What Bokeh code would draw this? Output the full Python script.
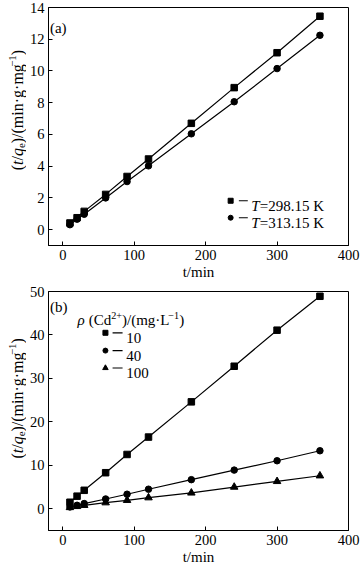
from math import pi
from bokeh.plotting import figure
from bokeh.models import Label, Range1d, FixedTicker
from bokeh.layouts import column, row
from bokeh.embed import file_html
from bokeh.resources import INLINE

# ---------------- data ----------------
t_min = [10, 20, 30, 60, 90, 120, 180, 240, 300, 360]
# panel (a): temperature
a_T298 = [0.42, 0.75, 1.15, 2.22, 3.35, 4.45, 6.70, 8.95, 11.15, 13.45]
a_T313 = [0.31, 0.66, 0.97, 2.00, 3.03, 4.02, 6.04, 8.06, 10.15, 12.25]
a_labels = ["=298.15 K", "=313.15 K"]
# panel (b): initial Cd2+ concentration
b_c10 = [1.5, 2.9, 4.25, 8.3, 12.5, 16.5, 24.6, 32.8, 41.1, 48.9]
b_c40 = [0.42, 0.8, 1.2, 2.25, 3.35, 4.5, 6.7, 8.9, 11.05, 13.35]
b_c100 = [0.3, 0.55, 0.8, 1.4, 1.95, 2.55, 3.65, 5.0, 6.3, 7.6]
b_labels = ["10", "40", "100"]

x_ticks = [0, 100, 200, 300, 400]
a_yticks = [0, 2, 4, 6, 8, 10, 12, 14]
b_yticks = [0, 10, 20, 30, 40, 50]
x_title = "t/min"

FONT = "Liberation Serif"

# approximate advance widths (Times metrics, per 1000 em)
W_REG = {"(": 333, ")": 333, "/": 278, "·": 250, " ": 250, "m": 778, "i": 278,
         "n": 500, "g": 500, "C": 667, "d": 500, "L": 611, "K": 722, "=": 564,
         ".": 250, "+": 564, "−": 564, "e": 444, "t": 278, "q": 500, "T": 611}
W_IT = {"t": 278, "q": 500, "T": 556, "ρ": 500}


def tw(s, size, italic=False):
    tot = 0
    for c in s:
        if italic and c in W_IT:
            tot += W_IT[c]
        else:
            tot += W_REG.get(c, 500)
    return tot * size / 1000.0


def piece_size(kind, size):
    return size * 0.68 if kind in ("sub", "sup") else size


def rich_h(p, x, y, pieces, size, xo=0.0, yo=0.0):
    off = 0.0
    for text, style, kind in pieces:
        if text == " ":
            off += tw(" ", size)
            continue
        fs = piece_size(kind, size)
        dy = -0.22 * size if kind == "sub" else (0.36 * size if kind == "sup" else 0.0)
        p.add_layout(Label(x=x, y=y, x_offset=xo + off, y_offset=yo + dy, text=text,
                           text_font=FONT, text_font_size=f"{fs:.1f}px",
                           text_font_style=style, text_align="left",
                           text_baseline="alphabetic", text_color="black"))
        off += tw(text, fs, style == "italic")
    return off


def rich_v(p, x, y, pieces, size, xo=0.0):
    total = sum(tw(t, piece_size(k, size), s == "italic") for t, s, k in pieces)
    off = -total / 2.0
    for text, style, kind in pieces:
        fs = piece_size(kind, size)
        dx = 0.22 * size if kind == "sub" else (-0.33 * size if kind == "sup" else 0.0)
        p.add_layout(Label(x=x, y=y, x_offset=xo + dx, y_offset=off, text=text,
                           angle=pi / 2, text_font=FONT, text_font_size=f"{fs:.1f}px",
                           text_font_style=style, text_align="left",
                           text_baseline="alphabetic", text_color="black"))
        off += tw(text, fs, style == "italic")


def blank_fig(w, h):
    # helper canvas whose frame is the whole canvas; data units == pixels
    f = figure(width=w, height=h, output_backend="svg", toolbar_location=None,
               x_range=Range1d(0, w), y_range=Range1d(0, h),
               x_axis_type=None, y_axis_type=None, min_border=0)
    f.grid.visible = False
    f.outline_line_color = None
    f.background_fill_color = "white"
    f.border_fill_color = "white"
    return f


YL_W = 26


def make_fig(height, yr, yticks, top, bottom):
    p = figure(width=360 - YL_W, height=height, output_backend="svg", toolbar_location=None,
               x_range=Range1d(-20, 400), y_range=Range1d(*yr),
               min_border_left=47 - YL_W, min_border_right=12,
               min_border_top=top, min_border_bottom=bottom)
    p.grid.visible = False
    p.outline_line_color = "black"
    p.outline_line_alpha = 1
    p.outline_line_width = 1
    p.background_fill_color = "white"
    p.border_fill_color = "white"
    for ax in (p.xaxis[0], p.yaxis[0]):
        ax.axis_line_color = "black"
        ax.major_tick_in = 4
        ax.major_tick_out = 0
        ax.major_tick_line_color = "black"
        ax.minor_tick_line_color = None
        ax.major_label_text_font = FONT
        ax.major_label_text_font_size = "14.5px"
        ax.major_label_text_color = "black"
    p.xaxis.ticker = FixedTicker(ticks=x_ticks)
    p.yaxis.ticker = FixedTicker(ticks=yticks)
    p.xaxis.major_label_standoff = 4
    p.yaxis.major_label_standoff = 4
    p.xaxis.axis_label = x_title
    p.xaxis.axis_label_text_font = FONT
    p.xaxis.axis_label_text_font_size = "15px"
    p.xaxis.axis_label_text_font_style = "normal"
    p.xaxis.axis_label_text_color = "black"
    p.xaxis.axis_label_standoff = 1
    return p


YLAB = [("(", "normal", "n"), ("t", "italic", "n"), ("/", "normal", "n"),
        ("q", "italic", "n"), ("e", "normal", "sub"), (")/(min·g·mg", "normal", "n"),
        ("−1", "normal", "sup"), (")", "normal", "n")]

H_A, H_B = 283, 284

# ---------------- panel (a) ----------------
pa = make_fig(H_A, (-1, 14), a_yticks, 7, 38)
for ys, mk, sz in ((a_T298, "square", 6.5), (a_T313, "circle", 6.5)):
    pa.line(t_min, ys, line_color="black", line_width=1.2)
    pa.scatter(t_min, ys, marker=mk, size=sz, fill_color="black", line_color="black")

rich_h(pa, -18, 13.0, [("(a)", "normal", "n")], 15, yo=-5)

leg_a_x, leg_a_y = 235, [1.82, 0.75]
for yy, mk, lab in zip(leg_a_y, ("square", "circle"), a_labels):
    pa.scatter([leg_a_x], [yy], marker=mk, size=5, fill_color="black", line_color="black")
    pa.segment(x0=[leg_a_x + 11.5], y0=[yy], x1=[leg_a_x + 24], y1=[yy],
               line_color="black", line_width=1.2)
    rich_h(pa, leg_a_x + 29, yy, [("T", "italic", "n"), (lab, "normal", "n")], 15, yo=-5)

yl_a = blank_fig(YL_W, H_A)
rich_v(yl_a, 17, H_A - 122, YLAB, 16)

# ---------------- panel (b) ----------------
pb = make_fig(H_B, (-5, 50), b_yticks, 8, 37)
for ys, mk, sz in ((b_c10, "square", 6.5), (b_c40, "circle", 6.5), (b_c100, "triangle", 7.5)):
    pb.line(t_min, ys, line_color="black", line_width=1.2)
    pb.scatter(t_min, ys, marker=mk, size=sz, fill_color="black", line_color="black")

rich_h(pb, -18, 47.6, [("(b)", "normal", "n")], 15, yo=-5)
rich_h(pb, 20.5, 44.5, [("ρ", "italic", "n"), (" ", "normal", "n"), ("(Cd", "normal", "n"),
                        ("2+", "normal", "sup"), (")/(mg·L", "normal", "n"),
                        ("−1", "normal", "sup"), (")", "normal", "n")], 15, yo=-5)
leg_b_x, leg_b_y = 59.7, [40.5, 36.4, 32.4]
for yy, mk, lab in zip(leg_b_y, ("square", "circle", "triangle"), b_labels):
    pb.scatter([leg_b_x], [yy], marker=mk, size=5.5 if mk == "triangle" else 5,
               fill_color="black", line_color="black")
    pb.segment(x0=[leg_b_x + 10], y0=[yy], x1=[leg_b_x + 24], y1=[yy],
               line_color="black", line_width=1.2)
    rich_h(pb, leg_b_x + 29, yy, [(lab, "normal", "n")], 15, yo=-5)

yl_b = blank_fig(YL_W, H_B)
rich_v(yl_b, 17, H_B - 127, YLAB, 16)

layout = column(row(yl_a, pa, spacing=0), row(yl_b, pb, spacing=0), spacing=0)
open("out.html", "w").write(file_html(layout, INLINE))
